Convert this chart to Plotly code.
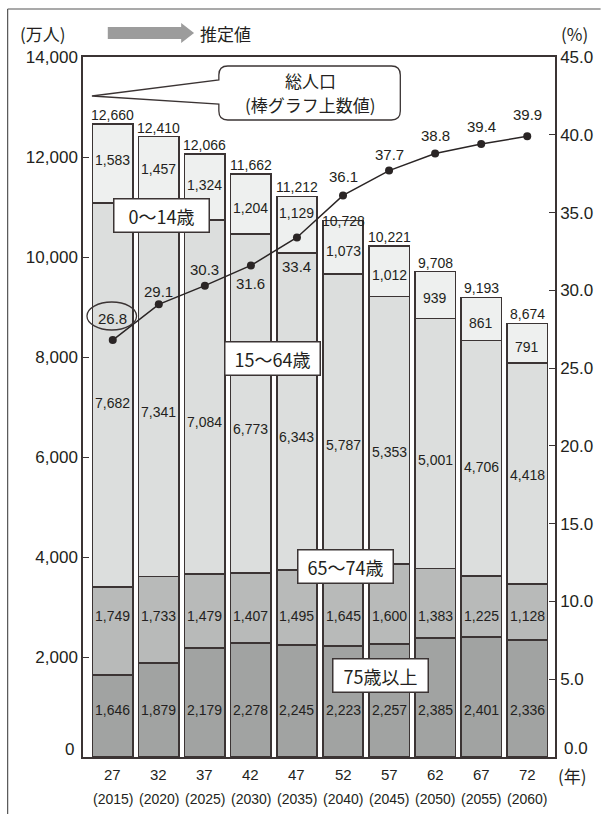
import plotly.graph_objects as go

# ---------------- data ----------------
years_jp = ["27", "32", "37", "42", "47", "52", "57", "62", "67", "72"]
years_ad = ["(2015)", "(2020)", "(2025)", "(2030)", "(2035)",
            "(2040)", "(2045)", "(2050)", "(2055)", "(2060)"]
age_0_14 = [1583, 1457, 1324, 1204, 1129, 1073, 1012, 939, 861, 791]
age_15_64 = [7682, 7341, 7084, 6773, 6343, 5787, 5353, 5001, 4706, 4418]
age_65_74 = [1749, 1733, 1479, 1407, 1495, 1645, 1600, 1383, 1225, 1128]
age_75_plus = [1646, 1879, 2179, 2278, 2245, 2223, 2257, 2385, 2401, 2336]
totals = [12660, 12410, 12066, 11662, 11212, 10728, 10221, 9708, 9193, 8674]
aging_rate = [26.8, 29.1, 30.3, 31.6, 33.4, 36.1, 37.7, 38.8, 39.4, 39.9]

left_ticks = [0, 2000, 4000, 6000, 8000, 10000, 12000, 14000]
right_ticks = [0, 5, 10, 15, 20, 25, 30, 35, 40, 45]

# ---------------- style ----------------
W, H = 605, 814
ML, MR, MT, MB = 83, 46, 57, 57
INK = "#231f20"
EDGE = "#3b3434"
C_75 = "#a1a3a2"
C_6574 = "#b8bab9"
C_1564 = "#dcdedd"
C_014 = "#eef0ef"
LAT = "Liberation Sans, Arial, sans-serif"
JP = "Noto Sans CJK JP, Noto Sans CJK SC, sans-serif"

# label placement (pixel offsets)
shift_014 = [4, 4, 2, -4, 12, -4, -4, -3, -4, -4]
drop_1564 = [8, 19, 25, 26, 26, 26, 22, 16, 9, 2]
shift_total = [9, 9, 9, 9, 9, 0, 9, 9, 9, 9]
shift_rate = [22, 13, 16, -18, -29, 19, 16, 18, 18, 22]
LABEL_Y_6574 = 2820
LABEL_Y_75 = 940


def px(x):
    return (x - ML) / (W - ML - MR)


def py(y):
    return (H - MB - y) / (H - MT - MB)


xs = list(range(len(years_jp)))

fig = go.Figure()
for vals, col, name in [(age_75_plus, C_75, "75歳以上"),
                        (age_65_74, C_6574, "65～74歳"),
                        (age_15_64, C_1564, "15～64歳"),
                        (age_0_14, C_014, "0～14歳")]:
    fig.add_trace(go.Bar(x=xs, y=vals, name=name, width=0.88,
                         marker=dict(color=col, line=dict(color=EDGE, width=1.6)),
                         showlegend=False, hoverinfo="skip"))

fig.add_trace(go.Scatter(x=xs, y=aging_rate, yaxis="y2", mode="lines+markers",
                         line=dict(color="#2a2525", width=1.5),
                         marker=dict(color="#2a2525", size=8),
                         showlegend=False, hoverinfo="skip"))

ann = []
seg_font = dict(family=LAT, size=14, color=INK)
for i in xs:
    b75 = age_75_plus[i]
    b65 = b75 + age_65_74[i]
    b15 = b65 + age_15_64[i]
    ann.append(dict(x=i, y=LABEL_Y_75, text=f"{age_75_plus[i]:,}", showarrow=False,
                    font=seg_font, yanchor="middle"))
    ann.append(dict(x=i, y=LABEL_Y_6574, text=f"{age_65_74[i]:,}", showarrow=False,
                    font=seg_font, yanchor="middle"))
    ann.append(dict(x=i, y=(b65 + b15) / 2, yshift=-drop_1564[i], text=f"{age_15_64[i]:,}",
                    showarrow=False, font=seg_font, yanchor="middle"))
    ann.append(dict(x=i, y=(b15 + totals[i]) / 2, yshift=shift_014[i], text=f"{age_0_14[i]:,}",
                    showarrow=False, font=seg_font, yanchor="middle"))
    ann.append(dict(x=i, y=totals[i], yshift=shift_total[i], text=f"{totals[i]:,}",
                    showarrow=False, font=seg_font, yanchor="middle"))
    ann.append(dict(x=i, y=aging_rate[i], yref="y2", yshift=shift_rate[i],
                    text=f"{aging_rate[i]:.1f}", showarrow=False,
                    font=dict(family=LAT, size=15, color=INK), yanchor="middle"))
    ann.append(dict(x=i, y=py(774), yref="paper", text=years_jp[i], showarrow=False,
                    font=dict(family=LAT, size=15, color=INK), yanchor="middle"))
    ann.append(dict(x=i, y=py(799), yref="paper", text=years_ad[i], showarrow=False,
                    font=dict(family=LAT, size=14, color=INK), yanchor="middle"))

# zero labels sit slightly above the baseline in the original
ann.append(dict(x=px(76), y=py(749), xref="paper", yref="paper", text=f"{left_ticks[0]:,}",
                showarrow=False, font=dict(family=LAT, size=17, color=INK),
                xanchor="right", yanchor="middle"))
ann.append(dict(x=px(566), y=py(748), xref="paper", yref="paper", text=f"{right_ticks[0]:.1f}",
                showarrow=False, font=dict(family=LAT, size=17, color=INK),
                xanchor="left", yanchor="middle"))

# category boxes
for txt, cx, cy in [("0～14歳", 162, 215), ("15～64歳", 274.5, 358.5),
                    ("65～74歳", 348, 566), ("75歳以上", 383, 675)]:
    ann.append(dict(x=px(cx), y=py(cy), xref="paper", yref="paper", text=txt,
                    showarrow=False, font=dict(family=JP, size=18, color=INK),
                    bgcolor="white", bordercolor=EDGE, borderwidth=1.5, borderpad=1,
                    width=92, height=30, xanchor="center", yanchor="middle"))

# header texts
for txt, cx, cy, fam in [("(万人)", 43, 33, JP), ("推定値", 227, 33, JP),
                         ("(%)", 579, 33, JP), ("(年)", 577, 775, JP)]:
    ann.append(dict(x=px(cx), y=py(cy), xref="paper", yref="paper", text=txt,
                    showarrow=False, font=dict(family=fam, size=17, color=INK),
                    xanchor="center", yanchor="middle"))

# callout text (two lines)
for txt, cy in [("総人口", 81), ("(棒グラフ上数値)", 104)]:
    ann.append(dict(x=px(312), y=py(cy), xref="paper", yref="paper", text=txt,
                    showarrow=False, font=dict(family=JP, size=17, color=INK),
                    xanchor="center", yanchor="middle"))

shapes = []
# callout with tail
x0, x1, y0, y1, r = 220, 403, 66, 120, 9
pts = [("M", x0 + r, y0), ("L", x1 - r, y0), ("Q", x1, y0, x1, y0 + r), ("L", x1, y1 - r),
       ("Q", x1, y1, x1 - r, y1), ("L", x0 + r, y1), ("Q", x0, y1, x0, y1 - r),
       ("L", x0, 104), ("L", 92, 96), ("L", x0, 80), ("L", x0, y0 + r),
       ("Q", x0, y0, x0 + r, y0)]
path = ""
for p in pts:
    cmd = p[0]
    coords = p[1:]
    segs = []
    for k in range(0, len(coords), 2):
        segs.append(f"{px(coords[k]):.5f},{py(coords[k+1]):.5f}")
    path += cmd + " " + " ".join(segs) + " "
path += "Z"
shapes.append(dict(type="path", path=path, xref="paper", yref="paper",
                   line=dict(color=EDGE, width=1.3), fillcolor="white", layer="below"))
# ellipse around first rate label
shapes.append(dict(type="circle", xref="paper", yref="paper", x0=px(87), x1=px(137),
                   y0=py(330), y1=py(302), line=dict(color=EDGE, width=1.3)))
# header arrow
arrow = (f"M {px(108):.5f},{py(27):.5f} L {px(182):.5f},{py(27):.5f} L {px(182):.5f},{py(23):.5f} "
         f"L {px(195):.5f},{py(33):.5f} L {px(182):.5f},{py(43):.5f} L {px(182):.5f},{py(39):.5f} "
         f"L {px(108):.5f},{py(39):.5f} Z")
shapes.append(dict(type="path", path=arrow, xref="paper", yref="paper",
                   line=dict(width=0), fillcolor="#9c9c9c"))
# outer frame (top and left)
shapes.append(dict(type="line", xref="paper", yref="paper", x0=px(7), x1=px(605),
                   y0=py(9), y1=py(9), line=dict(color="#555", width=1.2)))
shapes.append(dict(type="line", xref="paper", yref="paper", x0=px(7), x1=px(7),
                   y0=py(9), y1=py(814), line=dict(color="#555", width=1.2)))

fig.update_layout(
    width=W, height=H, margin=dict(l=ML, r=MR, t=MT, b=MB),
    paper_bgcolor="white", plot_bgcolor="white",
    barmode="stack", bargap=0.12,
    xaxis=dict(range=[-0.646, 9.603], showline=True, linecolor=EDGE, linewidth=1.5,
               mirror=True, showticklabels=False, ticks="", showgrid=False, zeroline=False,
               fixedrange=True),
    yaxis=dict(range=[0, 14000], tickvals=left_ticks,
               ticktext=[""] + [f"{v:,}" for v in left_ticks[1:]], ticks="inside", ticklen=6,
               tickcolor=EDGE, tickwidth=1.3, showline=True, linecolor=EDGE, linewidth=1.5,
               showgrid=False, zeroline=False,
               tickfont=dict(family=LAT, size=17, color=INK)),
    yaxis2=dict(range=[0, 45], tickvals=right_ticks,
                ticktext=[""] + [f"{v:.1f}" for v in right_ticks[1:]], overlaying="y",
                side="right",
                ticks="inside", ticklen=6, tickcolor=EDGE, tickwidth=1.3, showline=True,
                linecolor=EDGE, linewidth=1.5, showgrid=False, zeroline=False,
                tickfont=dict(family=LAT, size=17, color=INK)),
    annotations=ann, shapes=shapes,
)

fig.write_html("out.html")
